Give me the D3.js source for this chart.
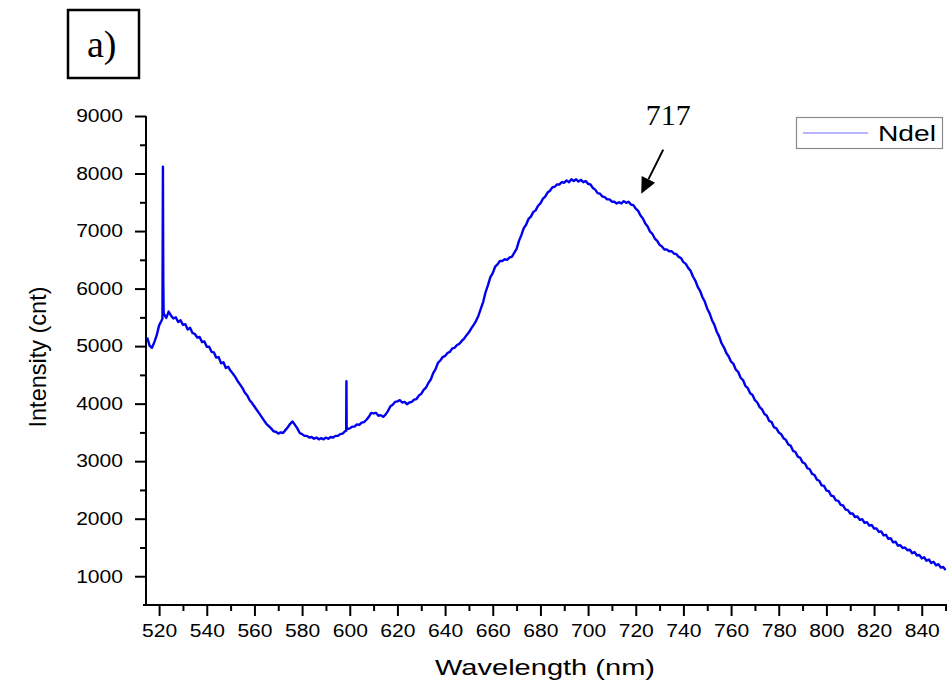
<!DOCTYPE html>
<html>
<head>
<meta charset="utf-8">
<script src="https://cdn.jsdelivr.net/npm/d3@7/dist/d3.min.js"></script>
<style>
  html, body { margin: 0; padding: 0; background: #fff; }
  svg { display: block; }
</style>
</head>
<body>
<svg id="chart" width="947" height="686"></svg>
<script>
// Emission spectrum, sampled every 1 nm from 515 nm to 850 nm
const startWavelength = 515;
const intensity = [
  5150, 5010, 4970, 5070, 5190, 5360, 5440, 5560, 5490, 5600,
  5530, 5480, 5500, 5420, 5450, 5370, 5380, 5290, 5320, 5230,
  5210, 5150, 5160, 5070, 5080, 4990, 4990, 4900, 4890, 4800,
  4810, 4700, 4720, 4620, 4640, 4570, 4520, 4460, 4390, 4330,
  4270, 4190, 4140, 4060, 4010, 3950, 3890, 3830, 3770, 3710,
  3650, 3610, 3570, 3520, 3510, 3480, 3500, 3490, 3540, 3590,
  3650, 3690, 3630, 3570, 3490, 3470, 3440, 3440, 3410, 3420,
  3390, 3410, 3380, 3400, 3380, 3410, 3390, 3420, 3410, 3440,
  3440, 3470, 3480, 3520, 3560, 3570, 3600, 3600, 3640, 3630,
  3670, 3680, 3720, 3770, 3840, 3830, 3840, 3790, 3800, 3770,
  3810, 3870, 3950, 3980, 4030, 4040, 4060, 4020, 4030, 3990,
  4020, 4030, 4070, 4080, 4140, 4170, 4240, 4280, 4360, 4420,
  4530, 4600, 4710, 4750, 4810, 4830, 4880, 4900, 4960, 4970,
  5020, 5040, 5090, 5130, 5190, 5240, 5310, 5370, 5440, 5530,
  5650, 5770, 5940, 6060, 6200, 6270, 6380, 6420, 6480, 6480,
  6510, 6500, 6540, 6550, 6620, 6690, 6830, 6930, 7050, 7110,
  7210, 7250, 7330, 7360, 7440, 7480, 7560, 7600, 7670, 7700,
  7760, 7770, 7810, 7810, 7850, 7840, 7880, 7850, 7900, 7870,
  7900, 7860, 7890, 7850, 7870, 7820, 7810, 7750, 7720, 7660,
  7650, 7600, 7590, 7550, 7550, 7510, 7510, 7480, 7500, 7480,
  7520, 7490, 7510, 7460, 7450, 7390, 7350, 7270, 7220, 7130,
  7080, 6990, 6950, 6870, 6830, 6760, 6730, 6680, 6680, 6650,
  6650, 6610, 6600, 6550, 6530, 6460, 6430, 6360, 6310, 6210,
  6140, 6030, 5960, 5850, 5770, 5650, 5570, 5450, 5370, 5250,
  5170, 5050, 4980, 4880, 4820, 4730, 4690, 4590, 4550, 4450,
  4410, 4310, 4270, 4180, 4150, 4060, 4020, 3940, 3900, 3820,
  3790, 3700, 3680, 3590, 3570, 3500, 3470, 3400, 3370, 3290,
  3270, 3180, 3160, 3080, 3060, 2980, 2960, 2880, 2860, 2780,
  2760, 2680, 2660, 2580, 2570, 2490, 2480, 2400, 2390, 2320,
  2310, 2240, 2230, 2160, 2150, 2090, 2090, 2030, 2040, 1980,
  1990, 1930, 1940, 1880, 1890, 1830, 1830, 1770, 1780, 1710,
  1720, 1650, 1660, 1590, 1600, 1530, 1540, 1490, 1500, 1450,
  1460, 1400, 1420, 1360, 1370, 1310, 1330, 1270, 1290, 1230,
  1250, 1190, 1210, 1150, 1160, 1110
];
const wavelengths = intensity.map((_, i) => startWavelength + i);

// Narrow lines on top of the broad band
const spikeWavelengths = [521.4, 521.6, 521.75, 521.9, 598.5, 598.6, 598.7];
const spikeIntensity   = [5480, 8120, 6150, 5600, 3530, 4390, 3560];

const xTicks = [520, 540, 560, 580, 600, 620, 640, 660, 680, 700, 720, 740, 760, 780, 800, 820, 840];
const xMinorTicks = [530, 550, 570, 590, 610, 630, 650, 670, 690, 710, 730, 750, 770, 790, 810, 830, 850];
const yTicks = [1000, 2000, 3000, 4000, 5000, 6000, 7000, 8000, 9000];
const yMinorTicks = [1500, 2500, 3500, 4500, 5500, 6500, 7500, 8500];

const seriesName = "Ndel";
const annotationWavelength = 717;

const points = wavelengths.map((w, i) => ({ w, v: intensity[i] }))
  .concat(spikeWavelengths.map((w, i) => ({ w, v: spikeIntensity[i] })))
  .sort((a, b) => a.w - b.w);

const svg = d3.select("#chart");
const plotLeft = 146, plotRight = 947, plotTop = 116, plotBottom = 605;
const stretch = 1.17;

const x = d3.scaleLinear().domain([514.5, 850.6]).range([plotLeft, plotRight]);
const y = d3.scaleLinear().domain([500, 9000]).range([plotBottom, plotTop]);

// widen text horizontally like the rest of the figure
function widen(sel, factor) {
  sel.each(function () {
    const len = this.getComputedTextLength();
    d3.select(this).attr("textLength", len * factor).attr("lengthAdjust", "spacingAndGlyphs");
  });
}

const axisFont = "'Liberation Sans', Arial, sans-serif";

// minor ticks
svg.append("g")
  .attr("transform", `translate(0,${plotBottom})`)
  .call(d3.axisBottom(x).tickValues(xMinorTicks).tickSize(6).tickFormat(""))
  .call(g => g.select(".domain").remove())
  .call(g => g.selectAll("line").attr("stroke", "#000").attr("stroke-width", 2));

svg.append("g")
  .attr("transform", `translate(${plotLeft},0)`)
  .call(d3.axisLeft(y).tickValues(yMinorTicks).tickSize(6).tickFormat(""))
  .call(g => g.select(".domain").remove())
  .call(g => g.selectAll("line").attr("stroke", "#000").attr("stroke-width", 2));

// major ticks with labels
const xAxisG = svg.append("g")
  .attr("transform", `translate(0,${plotBottom})`)
  .call(d3.axisBottom(x).tickValues(xTicks).tickSize(11).tickPadding(8).tickFormat(d3.format("d")))
  .call(g => g.select(".domain").remove());
xAxisG.selectAll("line").attr("stroke", "#000").attr("stroke-width", 2);
xAxisG.selectAll("text").attr("font-family", axisFont).attr("font-size", 18).attr("fill", "#000");
widen(xAxisG.selectAll("text"), stretch);

const yAxisG = svg.append("g")
  .attr("transform", `translate(${plotLeft},0)`)
  .call(d3.axisLeft(y).tickValues(yTicks).tickSize(11).tickPadding(12).tickFormat(d3.format("d")))
  .call(g => g.select(".domain").remove());
yAxisG.selectAll("line").attr("stroke", "#000").attr("stroke-width", 2);
yAxisG.selectAll("text").attr("font-family", axisFont).attr("font-size", 18).attr("fill", "#000");
widen(yAxisG.selectAll("text"), stretch);

// axis lines
svg.append("line").attr("x1", plotLeft).attr("x2", plotLeft).attr("y1", plotTop).attr("y2", plotBottom + 1)
  .attr("stroke", "#000").attr("stroke-width", 2);
svg.append("line").attr("x1", plotLeft - 3).attr("x2", plotRight).attr("y1", plotBottom).attr("y2", plotBottom)
  .attr("stroke", "#000").attr("stroke-width", 2);

// spectrum
const line = d3.line().x(d => x(d.w)).y(d => y(d.v));
svg.append("path")
  .datum(points)
  .attr("fill", "none")
  .attr("stroke", "#0000ee")
  .attr("stroke-width", 2.4)
  .attr("stroke-linejoin", "round")
  .attr("d", line);

// axis titles
svg.append("text")
  .attr("x", 545).attr("y", 675)
  .attr("text-anchor", "middle")
  .attr("font-family", axisFont).attr("font-size", 22).attr("fill", "#000")
  .attr("textLength", 220).attr("lengthAdjust", "spacingAndGlyphs")
  .text("Wavelength (nm)");

svg.append("text")
  .attr("transform", `translate(46,357) scale(${stretch},1) rotate(-90)`)
  .attr("text-anchor", "middle")
  .attr("font-family", axisFont).attr("font-size", 21).attr("fill", "#000")
  .attr("textLength", 141).attr("lengthAdjust", "spacingAndGlyphs")
  .text("Intensity (cnt)");

// legend
const legend = svg.append("g");
legend.append("rect").attr("x", 796.5).attr("y", 117.5).attr("width", 146).attr("height", 31)
  .attr("fill", "#fff").attr("stroke", "#8a8a8a").attr("stroke-width", 1.2);
legend.append("line").attr("x1", 803).attr("x2", 868).attr("y1", 133).attr("y2", 133)
  .attr("stroke", "#6a6aff").attr("stroke-width", 1.2);
legend.append("text").attr("x", 878).attr("y", 141)
  .attr("font-family", axisFont).attr("font-size", 22).attr("fill", "#000")
  .attr("textLength", 58).attr("lengthAdjust", "spacingAndGlyphs")
  .text(seriesName);

// panel label
svg.append("rect").attr("x", 68).attr("y", 10).attr("width", 71).attr("height", 68)
  .attr("fill", "none").attr("stroke", "#000").attr("stroke-width", 2.5);
svg.append("text").attr("x", 87).attr("y", 57)
  .attr("font-family", "'Liberation Serif', 'Times New Roman', serif").attr("font-size", 38).attr("fill", "#000")
  .text("a)");

// annotation arrow pointing at the shoulder
const tipX = x(722.3), tipY = y(7650);
const tailX = tipX + 22, tailY = tipY - 44;
const len = Math.hypot(tipX - tailX, tipY - tailY);
const ux = (tipX - tailX) / len, uy = (tipY - tailY) / len;
const headL = 16, headW = 7.5;
const bx = tipX - ux * headL, by = tipY - uy * headL;
svg.append("line").attr("x1", tailX).attr("y1", tailY).attr("x2", bx).attr("y2", by)
  .attr("stroke", "#000").attr("stroke-width", 2);
svg.append("path")
  .attr("d", `M${tipX},${tipY}L${bx - uy * headW},${by + ux * headW}L${bx + uy * headW},${by - ux * headW}Z`)
  .attr("fill", "#000");
svg.append("text").attr("x", tailX + 5).attr("y", 125)
  .attr("text-anchor", "middle")
  .attr("font-family", "'Liberation Serif', 'Times New Roman', serif").attr("font-size", 30).attr("fill", "#000")
  .text(String(annotationWavelength));
</script>
</body>
</html>
